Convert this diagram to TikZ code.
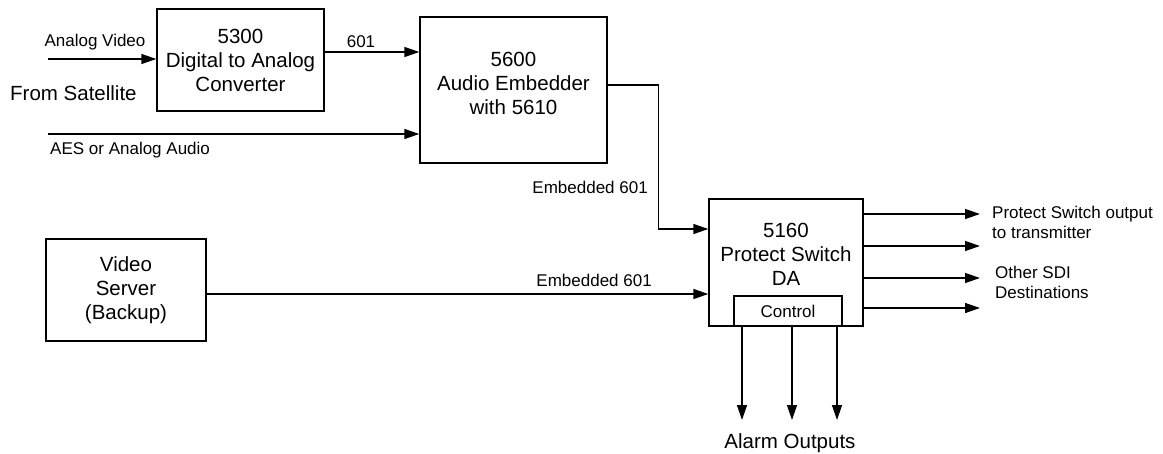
\documentclass[tikz,border=0pt]{standalone}
\usepackage{fontspec}
\setmainfont{Liberation Sans}
\usetikzlibrary{positioning,arrows.meta}

\tikzset{
  blk/.style={draw, line width=1.4pt, inner sep=0pt},
  big/.style={font=\fontsize{20.5}{24}\selectfont, align=center, inner sep=0pt},
  small/.style={font=\fontsize{17}{20}\selectfont, inner sep=0pt},
  sig/.style={line width=1.4pt, -{Triangle[length=15pt,width=10pt]}},
}

\begin{document}
\begin{tikzpicture}[x=1pt,y=-1pt]
  \useasboundingbox (0,0) rectangle (1163,453);

  % blocks
  \node[blk, big, minimum width=167pt, minimum height=102pt] (conv) at (240.5,60) {5300\\Digital to Analog\\Converter};
  \node[blk, minimum width=187pt, minimum height=146pt] (emb) at (513.5,90) {};
  \node[big] (embtxt) at ([yshift=7pt]emb.center) {5600\\Audio Embedder\\with 5610};
  \node[blk, big, minimum width=160pt, minimum height=102pt] (srv) at (126,290) {Video\\Server\\(Backup)};
  \node[blk, minimum width=154pt, minimum height=127pt] (ps) at (786,262.5) {};
  \node[big] (pstxt) at ([yshift=8pt]ps.center) {5160\\Protect Switch\\DA};
  \node[blk, small, minimum width=108pt, minimum height=30pt, above=0pt of ps.south, xshift=2pt] (ctrl) {Control};

  % inputs from satellite
  \coordinate (avin) at (48,59);
  \coordinate (aesin) at (48,134);
  \draw[sig] (avin) -- (avin -| conv.west);
  \draw[sig] ([yshift=8pt]conv.east) -- ([yshift=8pt]conv.east -| emb.west);
  \draw[sig] (aesin) -- (aesin -| emb.west);
  \node[small] (avlbl) at (95,42) {Analog Video};
  \node[small] (d601) at (361,42) {601};
  \node[small, anchor=west] (aeslbl) at (50,150) {AES or Analog Audio};
  \node[big, anchor=west] (sat) at (10,93) {From Satellite};

  % into the protect switch
  \draw[sig] ([yshift=5pt]emb.east) -- ++(51,0) |- ([yshift=33.5pt]ps.west);
  \node[small, anchor=east] (emblbl) at (648,187) {Embedded 601};
  \coordinate (srvout) at ([yshift=-4pt]srv.east);
  \draw[sig] (srvout) -- (srvout -| ps.west);
  \node[small, anchor=east] (srvlbl) at (652,280) {Embedded 601};

  % SDI outputs
  \foreach \y [count=\i] in {214,246,278,308} {
    \coordinate (out\i) at (980,\y);
    \draw[sig] (out\i -| ps.east) -- (out\i);
  }
  \node[small, align=left, anchor=west] (txlbl) at (992,222) {Protect Switch output\\to transmitter};
  \node[small, align=left, anchor=west] (sdilbl) at (995,282) {Other SDI\\Destinations};

  % alarm outputs
  \foreach \x [count=\i] in {742,792,837} {
    \coordinate (alm\i) at (\x,420);
    \draw[sig] (alm\i |- ctrl.south) -- (alm\i);
  }
  \node[big] (almlbl) at (790,443) {Alarm Outputs};
\end{tikzpicture}
\end{document}
